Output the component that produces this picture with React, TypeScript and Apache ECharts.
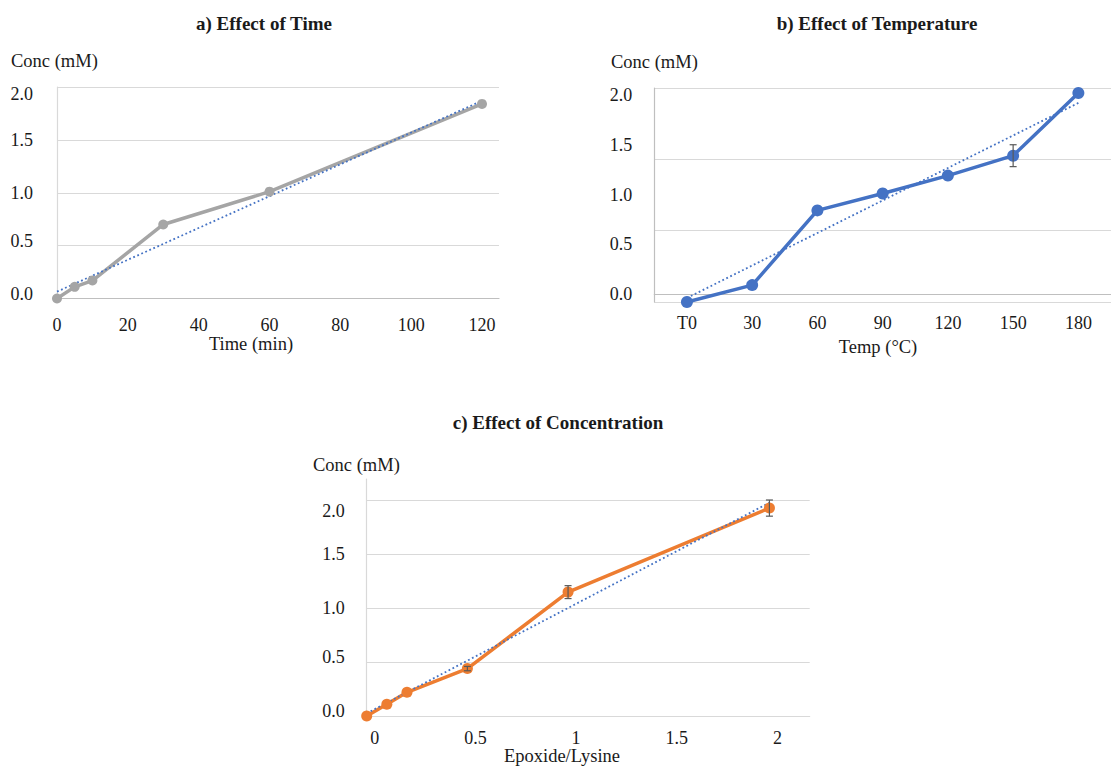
import React, { useEffect, useRef } from 'react';
import * as echarts from 'echarts';

// ---- a) Effect of Time ----
const timeX = [0, 5, 10, 30, 60, 120];
const timeY = [0.0, 0.11, 0.17, 0.7, 1.01, 1.84];
const timeTrend = [[0, 0.065], [120, 1.87]];
const timeTickLabelsAt = [0.04, 0.54, 1.0, 1.5, 1.93];

// ---- b) Effect of Temperature ----
const tempCats = ['T0', '30', '60', '90', '120', '150', '180'];
const tempY = [-0.08, 0.09, 0.84, 1.01, 1.19, 1.39, 2.02];
const tempErr = [0, 0, 0, 0, 0, 0.11, 0];
const tempTrend = [[0, -0.04], [6, 1.92]];
const tempTickLabelsAt = [0, 0.5, 1, 1.5, 2];

// ---- c) Effect of Concentration ----
const ratioX = [0, 0.1, 0.2, 0.5, 1, 2];
const ratioY = [0.0, 0.11, 0.22, 0.44, 1.15, 1.93];
const ratioErr = [0, 0, 0, 0.02, 0.06, 0.075];
const ratioTrend = [[0, 0.025], [2, 1.98]];
const ratioTickLabelsAt = [0.045, 0.545, 1.0, 1.5, 1.905];

const FONT = "'Liberation Serif', 'Times New Roman', serif";
const TXT = '#1a1a1a';
const GRID_C = '#D9D9D9';
const AXIS_C = '#BFBFBF';
const TREND = '#4472C4';

const errRender = (params: any, api: any) => {
  const x = api.value(0);
  const lo = api.coord([x, api.value(1)]);
  const hi = api.coord([x, api.value(2)]);
  const w = 3.5;
  const st = { stroke: '#595959', lineWidth: 1.2 };
  return {
    type: 'group',
    children: [
      { type: 'line', shape: { x1: lo[0], y1: lo[1], x2: hi[0], y2: hi[1] }, style: st },
      { type: 'line', shape: { x1: lo[0] - w, y1: lo[1], x2: lo[0] + w, y2: lo[1] }, style: st },
      { type: 'line', shape: { x1: hi[0] - w, y1: hi[1], x2: hi[0] + w, y2: hi[1] }, style: st },
    ],
  };
};

const label = (extra: any = {}) => ({
  fontFamily: FONT,
  fontSize: 18,
  color: TXT,
  ...extra,
});

const txt = (text: string, x: number, y: number, opts: any = {}) => ({
  type: 'text',
  x,
  y,
  silent: true,
  style: {
    text,
    fill: TXT,
    font: `${opts.bold ? 'bold ' : ''}${opts.size || 18}px ${FONT}`,
    align: opts.align || 'left',
    verticalAlign: 'middle',
  },
});

export default function App() {
  const ref = useRef<HTMLDivElement>(null);
  useEffect(() => {
    if (!ref.current) return;
    const chart = echarts.init(ref.current, undefined, { renderer: 'svg' });
    const fmtHalf = (v: number) => (Math.round(Number(v) * 2) / 2).toFixed(1);
    chart.setOption({
      animation: false,
      backgroundColor: '#ffffff',
      grid: [
        { left: 57, top: 87, width: 442, height: 211.5 },
        { left: 654.3, top: 88, width: 469.4, height: 214 },
        { left: 366.7, top: 479, width: 443, height: 237 },
      ],
      xAxis: [
        {
          type: 'value', gridIndex: 0, min: 0, max: 124.8, interval: 20,
          axisLine: { show: true, lineStyle: { color: AXIS_C, width: 1.2 } },
          axisTick: { show: false }, splitLine: { show: false },
          axisLabel: label({ margin: 17, showMaxLabel: false }),
        },
        {
          type: 'category', gridIndex: 1, data: tempCats, boundaryGap: true,
          axisLine: { show: true, lineStyle: { color: AXIS_C, width: 1.2 } },
          axisTick: { show: false }, splitLine: { show: false },
          axisLabel: label({ margin: 12 }),
        },
        {
          type: 'value', gridIndex: 2, min: 0, max: 2.2, interval: 0.5,
          axisLine: { show: true, lineStyle: { color: GRID_C, width: 1.2 } },
          axisTick: { show: false }, splitLine: { show: false },
          axisLabel: label({ margin: 13, showMaxLabel: false, padding: [0, 0, 0, 16] }),
        },
      ],
      yAxis: [
        {
          type: 'value', gridIndex: 0, min: 0, max: 2, interval: 0.5,
          axisLine: { show: true, lineStyle: { color: GRID_C, width: 1.2 } },
          axisTick: { show: false },
          splitLine: { show: true, lineStyle: { color: GRID_C, width: 1.2 } },
          axisLabel: label({ margin: 24, formatter: fmtHalf, customValues: timeTickLabelsAt }),
        },
        {
          type: 'value', gridIndex: 1, min: -0.08, max: 2.07,
          axisLine: { show: true, lineStyle: { color: AXIS_C, width: 1.2 } },
          axisTick: { show: false }, splitLine: { show: false },
          axisLabel: label({ margin: 22, formatter: fmtHalf, customValues: tempTickLabelsAt }),
        },
        {
          type: 'value', gridIndex: 1, min: 0, max: 3, interval: 1, position: 'left',
          axisLine: { show: false }, axisTick: { show: false }, axisLabel: { show: false },
          splitLine: { show: true, lineStyle: { color: GRID_C, width: 1.2 } },
        },
        {
          type: 'value', gridIndex: 2, min: 0, max: 2.2, interval: 0.5,
          axisLine: { show: true, lineStyle: { color: GRID_C, width: 1.2 } },
          axisTick: { show: false },
          splitLine: { show: true, showMaxLine: false, lineStyle: { color: GRID_C, width: 1.2 } },
          axisLabel: label({ margin: 22, formatter: fmtHalf, customValues: ratioTickLabelsAt }),
        },
      ],
      series: [
        {
          type: 'line', xAxisIndex: 0, yAxisIndex: 0,
          data: timeX.map((x, i) => [x, timeY[i]]),
          symbol: 'circle', symbolSize: 10,
          itemStyle: { color: '#A5A5A5' },
          lineStyle: { color: '#A5A5A5', width: 3.5 },
        },
        {
          type: 'line', xAxisIndex: 0, yAxisIndex: 0, data: timeTrend,
          symbol: 'none', lineStyle: { color: TREND, width: 1.8, type: [1.8, 2.6] },
        },
        {
          type: 'line', xAxisIndex: 1, yAxisIndex: 1, data: tempY,
          symbol: 'circle', symbolSize: 12,
          itemStyle: { color: '#4472C4' },
          lineStyle: { color: '#4472C4', width: 3.5 },
        },
        {
          type: 'line', xAxisIndex: 1, yAxisIndex: 1, data: tempTrend,
          symbol: 'none', lineStyle: { color: TREND, width: 1.8, type: [1.8, 2.6] },
        },
        {
          type: 'custom', xAxisIndex: 1, yAxisIndex: 1, renderItem: errRender,
          data: tempY.map((v, i) => [i, v - tempErr[i], v + tempErr[i]]).filter((_, i) => tempErr[i] > 0),
          z: 5,
        },
        {
          type: 'line', xAxisIndex: 2, yAxisIndex: 3,
          data: ratioX.map((x, i) => [x, ratioY[i]]),
          symbol: 'circle', symbolSize: 11,
          itemStyle: { color: '#ED7D31' },
          lineStyle: { color: '#ED7D31', width: 3.5 },
        },
        {
          type: 'line', xAxisIndex: 2, yAxisIndex: 3, data: ratioTrend,
          symbol: 'none', lineStyle: { color: TREND, width: 1.8, type: [1.8, 2.6] },
        },
        {
          type: 'custom', xAxisIndex: 2, yAxisIndex: 3, renderItem: errRender,
          data: ratioX.map((x, i) => [x, ratioY[i] - ratioErr[i], ratioY[i] + ratioErr[i]]).filter((_, i) => ratioErr[i] > 0),
          z: 5,
        },
      ],
      graphic: [
        txt('a) Effect of Time', 264, 23, { bold: true, size: 19, align: 'center' }),
        txt('b) Effect of Temperature', 877, 23, { bold: true, size: 19, align: 'center' }),
        txt('c) Effect of Concentration', 558, 422, { bold: true, size: 19, align: 'center' }),
        txt('Conc (mM)', 11, 61, { size: 18.5 }),
        txt('Conc (mM)', 611, 62, { size: 18.5 }),
        txt('Conc (mM)', 313, 465, { size: 18.5 }),
        txt('Time (min)', 251, 344, { size: 18.5, align: 'center' }),
        txt('Temp (°C)', 878, 347, { size: 18.5, align: 'center' }),
        txt('Epoxide/Lysine', 562, 756, { size: 18.5, align: 'center' }),
      ],
    });
    return () => chart.dispose();
  }, []);
  return (
    <div
      ref={ref}
      style={{ position: 'fixed', left: 0, top: 0, width: 1111, height: 767, background: '#fff' }}
    />
  );
}
